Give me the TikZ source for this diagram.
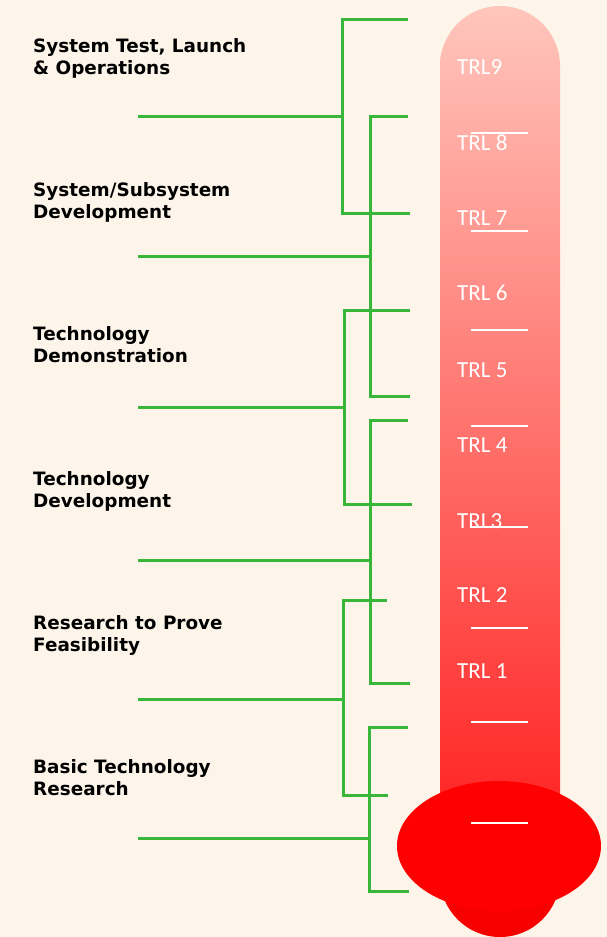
\documentclass[tikz,border=0pt]{standalone}
\usepackage{fontspec}
\setmainfont{DejaVu Sans}
\newfontfamily\trlfont{Carlito}
\definecolor{bg}{RGB}{253,245,234}
\definecolor{grn}{RGB}{56,182,56}
\definecolor{tubetop}{RGB}{255,198,188}
\definecolor{tubebot}{RGB}{255,30,30}
\definecolor{bulbred}{RGB}{255,0,0}
\definecolor{bulbdark}{RGB}{246,0,0}
\begin{document}
\begin{tikzpicture}[x=1pt,y=-1pt,
  lab/.style={anchor=base west,align=left,inner sep=0pt,font=\fontsize{18.4}{22}\selectfont\bfseries,text=black},
  trl/.style={anchor=base west,inner sep=0pt,text=white,font=\trlfont\fontsize{23}{26}\selectfont},
  gline/.style={draw=grn,line width=3pt},
  tick/.style={draw=white,line width=2.6pt}]
\fill[bg] (0,0) rectangle (607,937);
\useasboundingbox (0,0) rectangle (607,937);

% thermometer
\shade[top color=tubetop,bottom color=tubebot]
  (440,850) -- (440,66) arc[start angle=180,end angle=360,radius=60] -- (560,850) -- cycle;
\fill[bulbdark] (500,877) circle[radius=60];
\fill[bulbred] (499,846) ellipse[x radius=102,y radius=65];

% ticks
\foreach \yy in {133,231,330,426,527,628,722,823}
  \draw[tick] (471,\yy) -- (528,\yy);

% TRL labels
\node[trl] (t9) at (457,74) {TRL9};
\node[trl] (t8) at (457,150) {TRL 8};
\node[trl] (t7) at (457,225) {TRL 7};
\node[trl] (t6) at (457,300) {TRL 6};
\node[trl] (t5) at (457,377) {TRL 5};
\node[trl] (t4) at (457,452) {TRL 4};
\node[trl] (t3) at (457,528) {TRL3};
\node[trl] (t2) at (457,602) {TRL 2};
\node[trl] (t1) at (457,678) {TRL 1};

% stage labels (base = baseline of last line)
\node[lab] (s1) at (33,74) {System Test, Launch\\\& Operations};
\node[lab] (s2) at (33,218) {System/Subsystem\\Development};
\node[lab] (s3) at (33,362) {Technology\\Demonstration};
\node[lab] (s4) at (33,507) {Technology\\Development};
\node[lab] (s5) at (33,651) {Research to Prove\\Feasibility};
\node[lab] (s6) at (33,795) {Basic Technology\\Research};

% arm coordinates
\coordinate (a1) at (138,116.5);
\coordinate (a2) at (138,256.5);
\coordinate (a3) at (138,407);
\coordinate (a4) at (138,560.5);
\coordinate (a5) at (138,699);
\coordinate (a6) at (138,838.5);

% brackets
\draw[gline] (408,19) -| (342,213.5) -- (410,213.5);
\draw[gline] (a1) -- (342,116.5);
\draw[gline] (408,116) -| (370,396.5) -- (410,396.5);
\draw[gline] (a2) -- (370,256.5);
\draw[gline] (410,310) -| (344,504) -- (412,504);
\draw[gline] (a3) -- (344,407);
\draw[gline] (408,420) -| (370,683) -- (410,683);
\draw[gline] (a4) -- (370,560.5);
\draw[gline] (387,600) -| (343,795) -- (388,795);
\draw[gline] (a5) -- (343,699);
\draw[gline] (408,727) -| (369,891.5) -- (409,891.5);
\draw[gline] (a6) -- (369,838.5);
\end{tikzpicture}
\end{document}
